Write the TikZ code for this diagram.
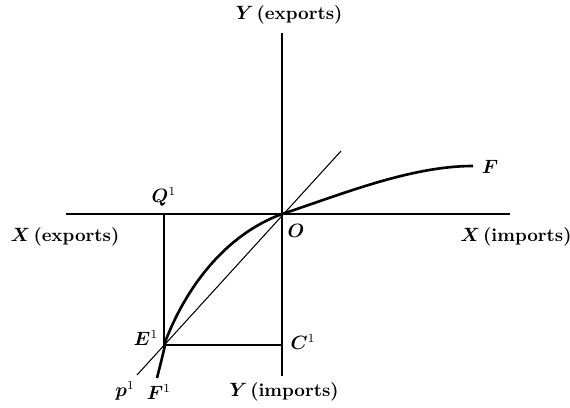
\documentclass[tikz,border=0pt]{standalone}
\usepackage{bm}
\usetikzlibrary{positioning}

\begin{document}
\begin{tikzpicture}[x=0.02cm, y=-0.02cm,
  axis/.style={line width=0.7pt},
  ray/.style={line width=0.6pt},
  curve/.style={line width=1.5pt},
  lbl/.style={font=\fontsize{10.5}{12}\selectfont\bfseries, inner sep=1pt}
]
\useasboundingbox (0,0) rectangle (570,408);
% points
\coordinate (O) at (282,214);
\coordinate (E1) at (164,345);
\coordinate (Q1) at (164,214);
\coordinate (C1) at (282,345);
\coordinate (xl) at (66,214);
\coordinate (xr) at (510,214);
\coordinate (yt) at (282,33);
\coordinate (yb) at (282,376);
\coordinate (p1) at (137,375);
\coordinate (tip) at (341,151);
\coordinate (F1) at (157,378);
\coordinate (Fe) at (473,166);
% axes and box
\draw[axis] (xl) -- (xr);
\draw[axis] (yt) -- (yb);
\draw[axis] (Q1) -- (E1) -- (C1);
\draw[ray] (p1) -- (tip);
% transformation curve
\draw[curve] (F1) .. controls (161,362) and (168,335) .. (E1)
     .. controls (185,288) and (225,235) .. (O)
     .. controls (340,195) and (410,166) .. (Fe);
% labels
\node[lbl] (yexp) at (289,15) {$\bm{Y}$\,(exports)};
\node[lbl] (ximp) at (516,237) {$\bm{X}$\,(imports)};
\node[lbl] (xexp) at (65,237) {$\bm{X}$\,(exports)};
\node[lbl] (yimp) at (284,392) {$\bm{Y}$\,(imports)};
\node[lbl] (o) at (296,231) {$\bm{O}$};
\node[lbl] (f) at (490,167) {$\bm{F}$};
\node[lbl] (q) at (164,197) {$\bm{Q}^{1}$};
\node[lbl] (e) at (146,338) {$\bm{E}^{1}$};
\node[lbl] (c) at (303,342) {$\bm{C}^{1}$};
\node[lbl] (p) at (125,391) {$\bm{p}^{1}$};
\node[lbl] (f1) at (159,392) {$\bm{F}^{1}$};
\end{tikzpicture}
\end{document}
